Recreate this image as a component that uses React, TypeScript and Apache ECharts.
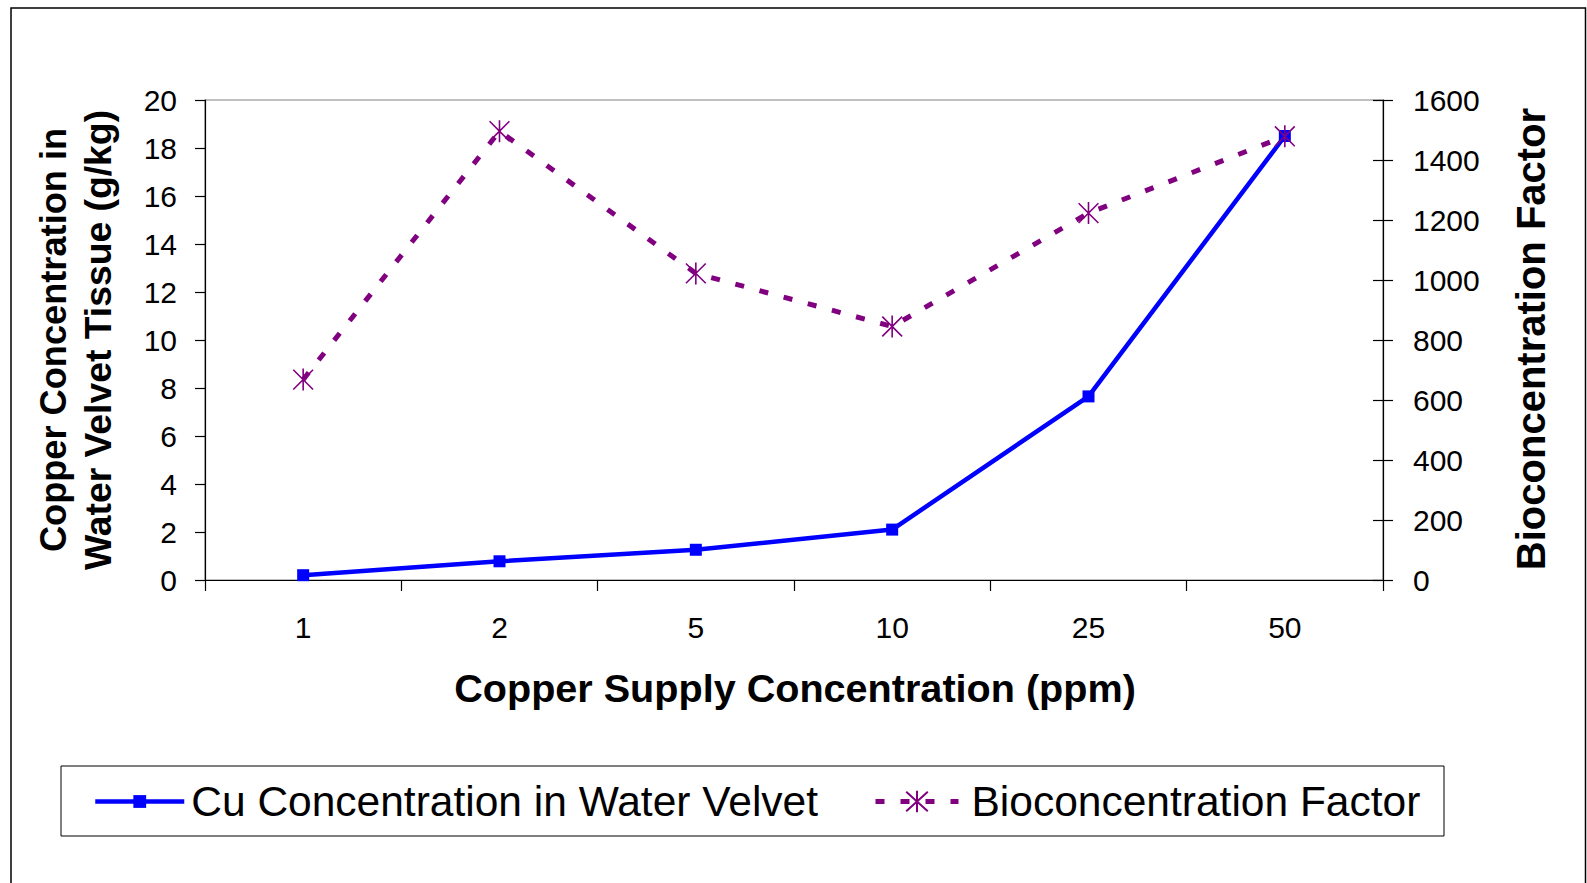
import React, { useEffect, useRef } from "react";
import * as echarts from "echarts";

const categories = ["1", "2", "5", "10", "25", "50"];
const cuConcentration = [0.2, 0.78, 1.26, 2.1, 7.65, 18.5];
const bioconcentrationFactor = [668, 1496, 1022, 845, 1223, 1479];
const leftTicks = { min: 0, max: 20, interval: 2 };
const rightTicks = { min: 0, max: 1600, interval: 200 };

const FONT = "'Liberation Sans', Arial, sans-serif";
const STAR = "path://M10,0L10,20M1,1L19,19M19,1L1,19";

export default function App() {
  const ref = useRef<HTMLDivElement>(null);
  useEffect(() => {
    if (!ref.current) return;
    const chart = echarts.init(ref.current, undefined, { renderer: "svg" });
    const axisLine = { show: true, lineStyle: { color: "#000", width: 1.2 } };
    const plain = (v: number) => String(v);
    const titleStyle = (text: string, fontSize: number) => ({
      text,
      fontSize,
      fontWeight: "bold",
      fontFamily: FONT,
      fill: "#000",
      align: "center",
      verticalAlign: "middle",
      textAlign: "center",
      textVerticalAlign: "middle",
    });
    chart.setOption({
      animation: false,
      backgroundColor: "#fff",
      textStyle: { fontFamily: FONT },
      grid: {
        left: 205,
        top: 100,
        width: 1178,
        height: 480,
        show: true,
        borderColor: "#808080",
        borderWidth: 1.2,
        containLabel: false,
      },
      xAxis: {
        type: "category",
        data: categories,
        boundaryGap: true,
        axisLine,
        axisTick: { show: true, length: 11, inside: false, lineStyle: { color: "#000", width: 1.2 } },
        axisLabel: { color: "#000", fontSize: 30, fontFamily: FONT, margin: 32 },
        splitLine: { show: false },
      },
      yAxis: [
        {
          type: "value",
          position: "left",
          ...leftTicks,
          axisLine,
          axisTick: { show: true, length: 10, lineStyle: { color: "#000", width: 1.2 } },
          axisLabel: { color: "#000", fontSize: 30, fontFamily: FONT, margin: 28, formatter: plain },
          splitLine: { show: false },
        },
        {
          type: "value",
          position: "right",
          ...rightTicks,
          axisLine,
          axisTick: { show: true, length: 10, lineStyle: { color: "#000", width: 1.2 } },
          axisLabel: { color: "#000", fontSize: 30, fontFamily: FONT, margin: 30, formatter: plain },
          splitLine: { show: false },
        },
        {
          type: "value",
          position: "right",
          ...rightTicks,
          axisLine: { show: false },
          axisTick: { show: true, inside: true, length: 10, lineStyle: { color: "#000", width: 1.2 } },
          axisLabel: { show: false },
          splitLine: { show: false },
        },
      ],
      legend: [
        {
          data: ["Cu Concentration in Water Velvet"],
          left: 93,
          top: 780,
          padding: 0,
          itemWidth: 89,
          itemHeight: 16,
          lineStyle: { width: 4.5, color: "#0000FF" },
          textStyle: { fontSize: 42.5, color: "#000", fontFamily: FONT, padding: [0, 0, 0, 2] },
          selectedMode: false,
        },
        {
          data: ["Bioconcentration Factor"],
          left: 873,
          top: 780,
          padding: 0,
          itemWidth: 83,
          itemHeight: 27,
          lineStyle: { width: 5, color: "#800080", type: [9, 16] },
          textStyle: { fontSize: 42.5, color: "#000", fontFamily: FONT, padding: [0, 0, 0, 8] },
          selectedMode: false,
        },
      ],
      graphic: [
        {
          type: "rect",
          shape: { x: 11, y: 8, width: 1574.5, height: 900 },
          style: { fill: "none", stroke: "#000", lineWidth: 1.5 },
          silent: true,
        },
        {
          type: "rect",
          shape: { x: 61, y: 766, width: 1383, height: 70 },
          style: { fill: "none", stroke: "#000", lineWidth: 1 },
          silent: true,
        },
        { type: "text", x: 53, y: 340, rotation: Math.PI / 2, style: titleStyle("Copper Concentration in", 36.2) },
        { type: "text", x: 98, y: 340, rotation: Math.PI / 2, style: titleStyle("Water Velvet Tissue (g/kg)", 37.3) },
        { type: "text", x: 1531, y: 339, rotation: Math.PI / 2, style: titleStyle("Bioconcentration Factor", 40) },
        { type: "text", x: 795, y: 688, style: titleStyle("Copper Supply Concentration (ppm)", 39.6) },
      ],
      series: [
        {
          name: "Cu Concentration in Water Velvet",
          type: "line",
          yAxisIndex: 0,
          data: cuConcentration,
          symbol: "rect",
          symbolSize: 12,
          color: "#0000FF",
          itemStyle: { color: "#0000FF" },
          lineStyle: { color: "#0000FF", width: 4.5 },
          z: 2,
        },
        {
          name: "Bioconcentration Factor",
          type: "line",
          yAxisIndex: 1,
          data: bioconcentrationFactor,
          symbol: STAR,
          symbolSize: 22,
          symbolKeepAspect: true,
          color: "#800080",
          itemStyle: { color: "none", borderColor: "#800080", borderWidth: 1.6 },
          lineStyle: { color: "#800080", width: 5, type: [9, 16] },
          z: 3,
        },
      ],
    });
    return () => chart.dispose();
  }, []);
  return (
    <div
      ref={ref}
      style={{ position: "fixed", left: 0, top: 0, width: 1587, height: 883, background: "#fff" }}
    />
  );
}
